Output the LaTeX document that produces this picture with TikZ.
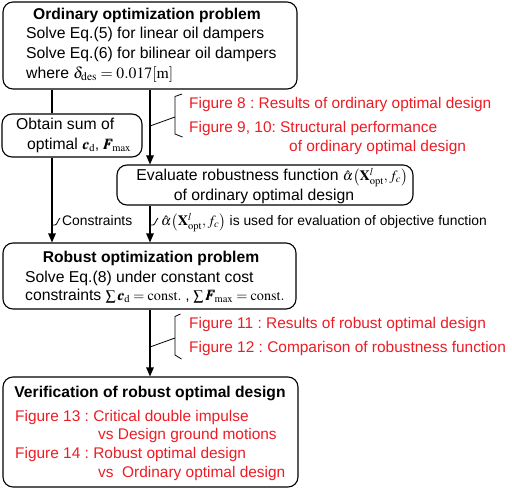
\documentclass[tikz,border=0pt]{standalone}
\usepackage{amsmath}
\usepackage{mathptmx}
\usepackage{bm}
\usepackage[no-math]{fontspec}
\setmainfont{Liberation Sans}
\usetikzlibrary{arrows.meta}
\definecolor{figred}{RGB}{237,28,36}
\frenchspacing
\tikzset{
  box/.style={draw, line width=1.1bp, rounded corners=10bp, inner sep=0pt},
  txt/.style={inner sep=0pt, anchor=mid west, font=\fontsize{15.8}{18}\selectfont},
  ctxt/.style={inner sep=0pt, anchor=mid, font=\fontsize{15.8}{18}\selectfont},
  ttl/.style={inner sep=0pt, anchor=mid, font=\fontsize{15.7}{18}\selectfont\bfseries},
  figtxt/.style={inner sep=0pt, anchor=mid west, text=figred, font=\fontsize{15.5}{18}\selectfont},
  small/.style={inner sep=0pt, anchor=mid west, font=\fontsize{13.9}{16}\selectfont},
  conn/.style={line width=1.1bp},
  arr/.style={conn, -{Triangle[length=9bp,width=7.5bp]}},
  thin/.style={line width=0.8bp},
}
\newcommand{\mathsmall}{\fontsize{14.3}{16}\selectfont}
\newcommand{\alphaX}{\hat{\alpha}\bigl(\mathbf{X}^{l}_{\mathrm{opt}}, f_c\bigr)}
\begin{document}
\begin{tikzpicture}[x=1bp,y=-1bp]
\useasboundingbox (0,0) rectangle (512,490);
% boxes
\node[box, minimum width=294bp, minimum height=87bp] (b1) at (150,45.5) {};
\node[box, minimum width=140bp, minimum height=43bp] (obt) at (72,135.5) {};
\node[box, minimum width=296bp, minimum height=40bp] (eval) at (265,185) {};
\node[box, minimum width=293bp, minimum height=66bp] (rob) at (149.5,276) {};
\node[box, minimum width=295bp, minimum height=110bp] (ver) at (150.5,432) {};
% box 1 text
\node[ttl] (t1) at (147,17) {Ordinary optimization problem};
\node[txt] (t1a) at (26,36) {Solve Eq.(5) for linear oil dampers};
\node[txt] (t1b) at (26,56) {Solve Eq.(6) for bilinear oil dampers};
\node[txt] (t1c) at (26,75.5) {where $\delta_{\mathrm{des}} = 0.017[\mathrm{m}]$};
% obtain text
\node[txt] (t2a) at (16,126.5) {Obtain sum of};
\node[txt] (t2b) at (27,146.5) {optimal {\mathsmall$\bm{c}_{\mathrm{d}}$, $\bm{F}_{\!\mathrm{max}}$}};
% red block 1
\node[figtxt] (r1) at (189,106) {Figure 8 : Results of ordinary optimal design};
\node[figtxt] (r2) at (189,129.5) {Figure 9, 10: Structural performance};
\node[figtxt] (r3) at (289,148.5) {of ordinary optimal design};
% eval text
\node[ctxt] (t3a) at (272,178) {Evaluate robustness function {\mathsmall$\alphaX$}};
\node[ctxt] (t3b) at (264,197.5) {of ordinary optimal design};
% labels
\node[small] (lc) at (62,223) {Constraints};
\node[small] (la) at (161,223) {{\mathsmall$\alphaX$} is used for evaluation of objective function};
% robust text
\node[ttl] (t4) at (151,259.5) {Robust optimization problem};
\node[txt] (t4a) at (25,279.5) {Solve Eq.(8) under constant cost};
\node[txt] (t4b) at (25,297.5) {constraints {\mathsmall$\sum \bm{c}_{\mathrm{d}} = \mathrm{const.}$ , $\sum \bm{F}_{\!\mathrm{max}} = \mathrm{const.}$}};
% red block 2
\node[figtxt] (r4) at (189,325.5) {Figure 11 : Results of robust optimal design};
\node[figtxt] (r5) at (189,349.5) {Figure 12 : Comparison of robustness function};
% verification
\node[ttl] (t5) at (150,394.5) {Verification of robust optimal design};
\node[figtxt] (r6) at (15,418.5) {Figure 13 : Critical double impulse};
\node[figtxt] (r7) at (98,436.5) {vs Design ground motions};
\node[figtxt] (r8) at (15,455.5) {Figure 14 : Robust optimal design};
\node[figtxt] (r9) at (98,474.5) {vs\ \ Ordinary optimal design};
% connectors
\coordinate (L) at (52,0);
\coordinate (R) at (150,0);
\draw[conn] (b1.south -| L) -- (obt.north -| L);
\draw[arr] (obt.south -| L) -- (rob.north -| L);
\draw[arr] (b1.south -| R) -- (eval.north -| R);
\draw[arr] (eval.south -| R) -- (rob.north -| R);
\draw[arr] (rob.south -| R) -- (ver.north -| R);
% braces
\coordinate (m1) at (175,117);
\draw[thin] (182,94) -- (175,96.5) -- (175,134) -- (182.5,137);
\draw[thin] (150,126) -- (m1);
\coordinate (m2) at (175,338);
\draw[thin] (180.5,314) -- (175,316.5) -- (175,355) -- (181.5,359);
\draw[thin] (150,347) -- (m2);
% label ticks
\draw[thin] (52,225) -- (55,225) .. controls (57,225) and (58,220) .. (60,218);
\draw[thin] (150,225) -- (153,225) .. controls (155,225) and (156,220) .. (158,218);
\end{tikzpicture}
\end{document}
